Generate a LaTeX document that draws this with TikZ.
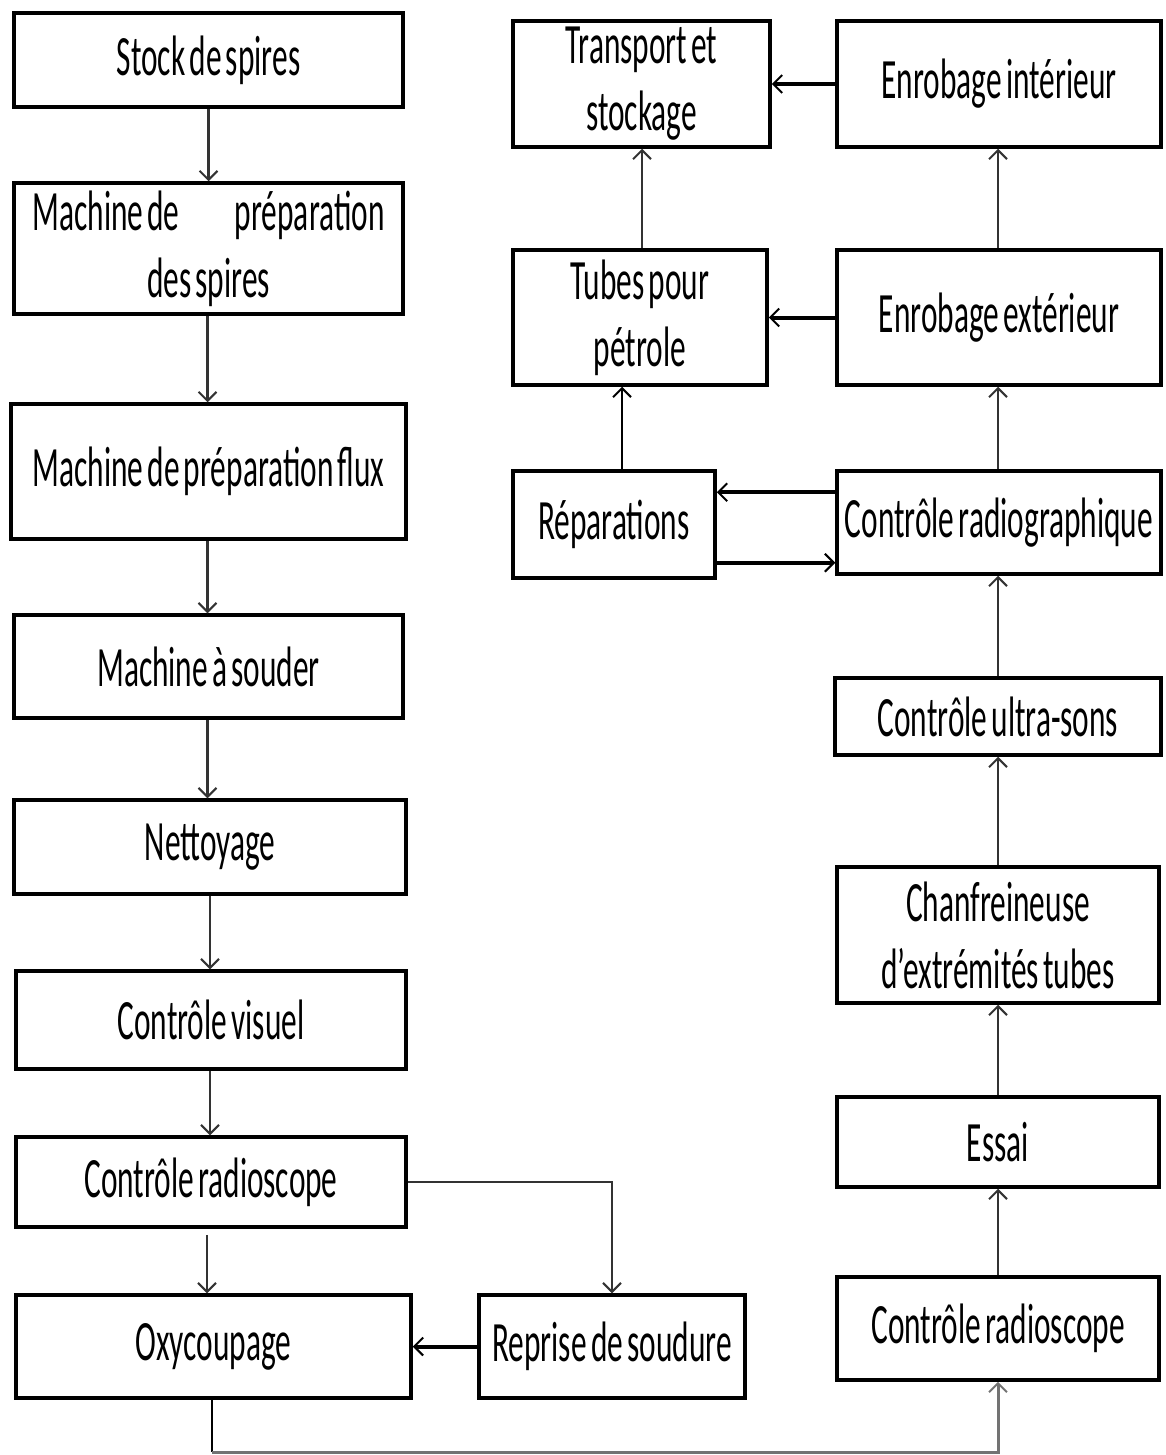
\documentclass[tikz,border=0pt]{standalone}
\usepackage{fontspec}
\setmainfont{Carlito}[FakeStretch=0.55,WordSpace=0.6]
\usetikzlibrary{arrows.meta,calc}
\begin{document}
\begin{tikzpicture}[x=1pt,y=-1pt,
  box/.style={draw,line width=3.5pt,inner sep=0pt,align=center,
    font=\fontsize{57}{67}\selectfont},
  tip/.style={-{Straight Barb[length=9pt,width=18pt,line width=2pt]}},
  conn/.style={tip,line width=2.5pt,draw=black!80},
  hconn/.style={tip,line width=4pt,draw=black}]
\useasboundingbox (0,0) rectangle (1165,1455);
% left column
\node[box,minimum width=389pt,minimum height=94pt] (stock) at (208.5,60) {Stock de spires};
\node[box,minimum width=389pt,minimum height=131pt] (prep) at (208.5,248.5) {\makebox[352pt]{Machine de\hfill préparation}\\ des spires};
\node[box,minimum width=395pt,minimum height=135pt] (flux) at (208.5,471.5) {Machine de préparation flux};
\node[box,minimum width=389pt,minimum height=103pt] (souder) at (208.5,666.5) {Machine à souder};
\node[box,minimum width=392pt,minimum height=94pt] (nett) at (210,847) {Nettoyage};
\node[box,minimum width=390pt,minimum height=98pt] (visuel) at (211,1020) {Contrôle visuel};
\node[box,minimum width=390pt,minimum height=90pt] (radL) at (211,1182) {Contrôle radioscope};
\node[box,minimum width=395pt,minimum height=103pt] (oxy) at (213.5,1346.5) {Oxycoupage};
\node[box,minimum width=266pt,minimum height=103pt] (reprise) at (612,1346.5) {Reprise de soudure};
% right part
\node[box,minimum width=257pt,minimum height=126pt] (transport) at (641.5,84) {Transport et\\ stockage};
\node[box,minimum width=324pt,minimum height=126pt] (enrint) at (999,84) {Enrobage intérieur};
\node[box,minimum width=254pt,minimum height=135pt] (tubes) at (640,317.5) {Tubes pour\\ pétrole};
\node[box,minimum width=324pt,minimum height=135pt] (enrext) at (999,317.5) {Enrobage extérieur};
\node[box,minimum width=202pt,minimum height=107pt] (repar) at (614,524.5) {Réparations};
\node[box,minimum width=324pt,minimum height=103pt] (radiog) at (999,522.5) {Contrôle radiographique};
\node[box,minimum width=326pt,minimum height=77pt] (ultra) at (998,716.5) {Contrôle ultra-sons};
\node[box,minimum width=322pt,minimum height=136pt] (chanf) at (998,935) {Chanfreineuse\\ d’extrémités tubes};
\node[box,minimum width=322pt,minimum height=90pt] (essai) at (998,1142) {Essai};
\node[box,minimum width=322pt,minimum height=103pt] (radR) at (998,1328.5) {Contrôle radioscope};
\coordinate (bot) at (600,1452);
% left column connectors
\draw[conn] (stock.south) -- (stock.south |- prep.north);
\draw[conn] ([xshift=-1pt]prep.south) -- ([xshift=-1pt]prep.south |- flux.north);
\draw[conn] ([xshift=-1pt]flux.south) -- ([xshift=-1pt]flux.south |- souder.north);
\draw[conn] ([xshift=-1pt]souder.south) -- ([xshift=-1pt]souder.south |- nett.north);
\draw[conn] (nett.south) -- (nett.south |- visuel.north);
\draw[conn] ([xshift=-1pt]visuel.south) -- ([xshift=-1pt]visuel.south |- radL.north);
\draw[conn] ([xshift=-4pt,yshift=-6pt]radL.south) -- ([xshift=-4pt]radL.south |- oxy.north);
\draw[conn,line width=2pt] (radL.east) -| (reprise.north);
\draw[hconn] (reprise.west) -- (oxy.east);
\draw[line width=2.5pt,draw=black] ([xshift=-1.5pt]oxy.south) -- ([xshift=-1.5pt]oxy.south |- bot);
\draw[conn,draw=black!55,line width=3pt] ([xshift=-1.5pt]oxy.south |- bot) -- (bot) -| (radR.south);
% right column connectors
\draw[conn] (radR.north) -- (radR.north |- essai.south);
\draw[conn] (essai.north) -- (essai.north |- chanf.south);
\draw[conn] (chanf.north) -- (chanf.north |- ultra.south);
\draw[conn] (ultra.north) -- (ultra.north |- radiog.south);
\draw[conn] ([xshift=-1pt]radiog.north) -- ([xshift=-1pt]radiog.north |- enrext.south);
\draw[conn] ([xshift=-1pt]enrext.north) -- ([xshift=-1pt]enrext.north |- enrint.south);
\draw[hconn] (enrint.west) -- (transport.east);
\draw[hconn] (enrext.west) -- (tubes.east);
\draw[hconn] ([yshift=-23pt]radiog.north west) -- ([yshift=-23pt]radiog.north west -| repar.east);
\draw[hconn] ([yshift=17pt]repar.south east) -- ([yshift=17pt]repar.south east -| radiog.west);
\draw[conn,draw=black] ([xshift=8pt]repar.north) -- ([xshift=8pt]repar.north |- tubes.south);
\draw[conn] ([xshift=2pt]tubes.north) -- ([xshift=2pt]tubes.north |- transport.south);
\end{tikzpicture}
\end{document}
